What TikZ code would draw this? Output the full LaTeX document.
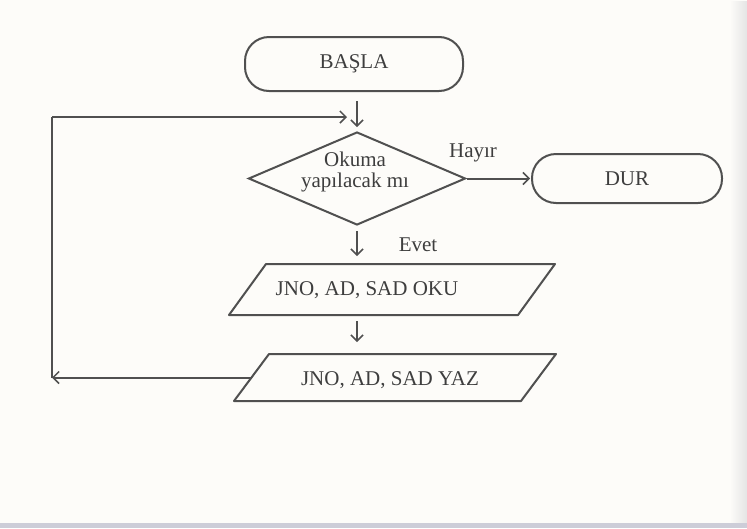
\documentclass[tikz,border=0pt]{standalone}
\usepackage{fontspec}
\setmainfont{Liberation Serif}
\usetikzlibrary{shapes.geometric,arrows.meta,fadings}
\definecolor{ink}{HTML}{505050}
\definecolor{txtc}{HTML}{3E3E3E}
\definecolor{paper}{HTML}{FDFCF9}
\begin{document}
\begin{tikzpicture}[x=1pt,y=-1pt,
  line width=2pt,
  every node/.style={font=\fontsize{21}{21}\selectfont, text=txtc},
  terminal/.style={draw=ink, rectangle, rounded corners=24pt, inner sep=0pt},
  decision/.style={draw=ink, diamond, inner sep=0pt, minimum width=217pt, minimum height=93pt},
  iobody/.style={rectangle, inner sep=0pt},
  lbl/.style={inner sep=0pt},
  arr/.style={draw=ink, -{Straight Barb[length=6pt,width=12pt,line width=1.5pt]}},
  flow/.style={draw=ink}
]
  \useasboundingbox (0,0) rectangle (747,528);
  \fill[paper] (0,0) rectangle (747,528);
  % page edge shading
  \fill[gray!20, path fading=west] (730,0) rectangle (747,523);
  \fill[blue!12!gray!35] (0,523) rectangle (747,528);

  % shapes
  \node[terminal, minimum width=218pt, minimum height=54pt] (start) at (354,64) {BAŞLA};
  \node[decision] (dia) at (357,178.5) {};
  \node[lbl, align=center] (q) at (355,172) {Okuma\\yapılacak mı};
  \node[terminal, minimum width=190pt, minimum height=49pt] (stop) at (627,178.5) {DUR};

  % input/output boxes: a body node, outlined as a parallelogram
  \node[iobody, minimum width=287pt, minimum height=49pt] (oku) at (392,289.5) {};
  \draw[flow, line join=round]
    ([xshift=18.5pt]oku.north west) -- ([xshift=18.5pt]oku.north east)
    -- ([xshift=-18.5pt]oku.south east) -- ([xshift=-18.5pt]oku.south west) -- cycle;
  \node[lbl] (okut) at (367,290) {JNO, AD, SAD OKU};

  \node[iobody, minimum width=285pt, minimum height=45pt] (yaz) at (395,377.5) {};
  \draw[flow, line join=round]
    ([xshift=17.5pt]yaz.north west) -- ([xshift=17.5pt]yaz.north east)
    -- ([xshift=-17.5pt]yaz.south east) -- ([xshift=-17.5pt]yaz.south west) -- cycle;
  \node[lbl] (yazt) at (390,380) {JNO, AD, SAD YAZ};

  % branch labels
  \node[lbl] (hayir) at (473,153) {Hayır};
  \node[lbl] (evet) at (418,245) {Evet};

  % loop corners
  \coordinate (c1) at (52,377.5);
  \coordinate (c2) at (52,117);
  \coordinate (c3) at (347,117);

  % connectors
  \draw[arr, shorten <=9pt, shorten >=4pt] (start.south -| dia.north) -- (dia.north);
  \draw[arr, shorten >=1pt] (dia.east) -- (stop.west);
  \draw[arr, shorten <=5pt, shorten >=8pt] (dia.south) -- (dia.south |- oku.north);
  \draw[arr, shorten <=6pt, shorten >=12pt] (dia.south |- oku.south) -- (dia.south |- yaz.north);
  \draw[arr] (yaz.west) -- (c1);
  \draw[flow] (c1) -- (c2);
  \draw[arr] (c2) -- (c3);
\end{tikzpicture}
\end{document}
